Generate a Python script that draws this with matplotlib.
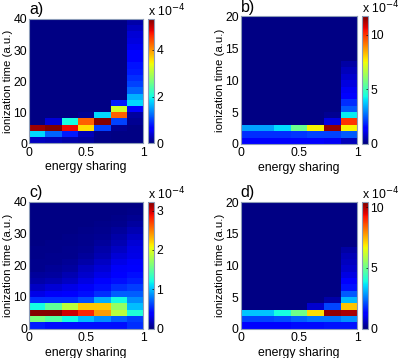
import numpy as np
import matplotlib
matplotlib.use("Agg")
import matplotlib.pyplot as plt

plt.rcParams['font.family'] = ['Liberation Sans', 'DejaVu Sans']

# --- Data (units of 1e-4), rows listed from bottom (t=0) upward, 7 energy-sharing bins ---
SHARING_EDGES = np.linspace(0, 1, 8)

# panel a: 20 rows of 2 a.u.
grid_a = [
    [0.3, 0.25, 0.2, 0.15, 0.05, 0.03, 0.03],
    [1.8, 1.2, 0.8, 0.25, 0.05, 0.03, 0.03],
    [5.2, 5.4, 4.8, 3.6, 1.0, 0.1, 0.03],
    [0.03, 0.4, 2.0, 4.3, 5.3, 1.0, 0.1],
    [0.03, 0.03, 0.03, 0.1, 1.8, 4.3, 0.15],
    [0.03, 0.03, 0.03, 0.03, 0.03, 3.2, 0.6],
    [0.03, 0.03, 0.03, 0.03, 0.03, 0.8, 1.8],
    [0.03, 0.03, 0.03, 0.03, 0.03, 0.03, 1.6],
    [0.03, 0.03, 0.03, 0.03, 0.03, 0.03, 1.2],
    [0.03, 0.03, 0.03, 0.03, 0.03, 0.03, 1.0],
    [0.03, 0.03, 0.03, 0.03, 0.03, 0.03, 0.9],
    [0.03, 0.03, 0.03, 0.03, 0.03, 0.03, 0.8],
    [0.03, 0.03, 0.03, 0.03, 0.03, 0.03, 0.75],
    [0.03, 0.03, 0.03, 0.03, 0.03, 0.03, 0.65],
    [0.03, 0.03, 0.03, 0.03, 0.03, 0.03, 0.6],
    [0.03, 0.03, 0.03, 0.03, 0.03, 0.03, 0.5],
    [0.03, 0.03, 0.03, 0.03, 0.03, 0.03, 0.45],
    [0.03, 0.03, 0.03, 0.03, 0.03, 0.03, 0.4],
    [0.03, 0.03, 0.03, 0.03, 0.03, 0.03, 0.3],
    [0.03, 0.03, 0.03, 0.03, 0.03, 0.03, 0.2],
]

# panel b: 20 rows of 1 a.u.
grid_b = [
    [1.3, 1.3, 1.3, 1.3, 1.3, 1.2, 0.6],
    [2.0, 2.0, 2.0, 2.1, 2.2, 2.2, 2.5],
    [3.3, 3.3, 4.0, 5.6, 7.6, 11.5, 7.6],
    [0.05, 0.05, 0.05, 0.05, 0.05, 1.0, 10.0],
    [0.05, 0.05, 0.05, 0.05, 0.05, 0.2, 4.2],
    [0.05, 0.05, 0.05, 0.05, 0.05, 0.05, 2.5],
    [0.05, 0.05, 0.05, 0.05, 0.05, 0.05, 2.0],
    [0.05, 0.05, 0.05, 0.05, 0.05, 0.05, 1.5],
    [0.05, 0.05, 0.05, 0.05, 0.05, 0.05, 1.2],
    [0.05, 0.05, 0.05, 0.05, 0.05, 0.05, 1.0],
    [0.05, 0.05, 0.05, 0.05, 0.05, 0.05, 0.8],
    [0.05, 0.05, 0.05, 0.05, 0.05, 0.05, 0.6],
    [0.05, 0.05, 0.05, 0.05, 0.05, 0.05, 0.4],
    [0.05, 0.05, 0.05, 0.05, 0.05, 0.05, 0.05],
    [0.05, 0.05, 0.05, 0.05, 0.05, 0.05, 0.05],
    [0.05, 0.05, 0.05, 0.05, 0.05, 0.05, 0.05],
    [0.05, 0.05, 0.05, 0.05, 0.05, 0.05, 0.05],
    [0.05, 0.05, 0.05, 0.05, 0.05, 0.05, 0.05],
    [0.05, 0.05, 0.05, 0.05, 0.05, 0.05, 0.05],
    [0.05, 0.05, 0.05, 0.05, 0.05, 0.05, 0.05],
]

# panel c: 20 rows of 2 a.u.
grid_c = [
    [0.5, 0.45, 0.45, 0.45, 0.45, 0.45, 0.55],
    [1.6, 1.45, 1.2, 1.0, 0.85, 0.7, 0.6],
    [3.2, 3.2, 3.0, 2.8, 2.4, 1.85, 1.25],
    [1.2, 1.5, 1.85, 2.25, 2.25, 1.7, 1.0],
    [0.55, 0.55, 0.55, 0.65, 0.95, 1.2, 0.85],
    [0.3, 0.35, 0.4, 0.45, 0.55, 0.7, 0.7],
    [0.2, 0.25, 0.3, 0.35, 0.45, 0.55, 0.6],
    [0.12, 0.15, 0.2, 0.28, 0.38, 0.45, 0.5],
    [0.08, 0.1, 0.15, 0.22, 0.3, 0.4, 0.45],
    [0.05, 0.07, 0.1, 0.18, 0.25, 0.35, 0.4],
    [0.04, 0.05, 0.07, 0.12, 0.2, 0.3, 0.35],
    [0.03, 0.04, 0.05, 0.08, 0.15, 0.25, 0.3],
    [0.03, 0.03, 0.04, 0.06, 0.12, 0.2, 0.28],
    [0.02, 0.03, 0.03, 0.05, 0.08, 0.15, 0.25],
    [0.02, 0.02, 0.03, 0.04, 0.06, 0.12, 0.2],
    [0.02, 0.02, 0.02, 0.03, 0.04, 0.08, 0.15],
    [0.02, 0.02, 0.02, 0.02, 0.03, 0.05, 0.1],
    [0.02, 0.02, 0.02, 0.02, 0.02, 0.03, 0.06],
    [0.02, 0.02, 0.02, 0.02, 0.02, 0.02, 0.03],
    [0.02, 0.02, 0.02, 0.02, 0.02, 0.02, 0.02],
]

# panel d: 20 rows of 1 a.u.
grid_d = [
    [1.3, 1.3, 1.3, 1.4, 1.4, 1.5, 1.5],
    [2.0, 2.0, 2.1, 2.3, 2.5, 2.5, 2.8],
    [3.3, 3.3, 3.9, 5.0, 7.0, 10.2, 10.0],
    [0.05, 0.05, 0.05, 0.05, 0.7, 2.0, 7.3],
    [0.05, 0.05, 0.05, 0.05, 0.05, 0.4, 3.2],
    [0.05, 0.05, 0.05, 0.05, 0.05, 0.05, 2.2],
    [0.05, 0.05, 0.05, 0.05, 0.05, 0.05, 1.5],
    [0.05, 0.05, 0.05, 0.05, 0.05, 0.05, 1.2],
    [0.05, 0.05, 0.05, 0.05, 0.05, 0.05, 0.9],
    [0.05, 0.05, 0.05, 0.05, 0.05, 0.05, 0.7],
    [0.05, 0.05, 0.05, 0.05, 0.05, 0.05, 0.6],
    [0.05, 0.05, 0.05, 0.05, 0.05, 0.05, 0.5],
    [0.05, 0.05, 0.05, 0.05, 0.05, 0.05, 0.35],
    [0.05, 0.05, 0.05, 0.05, 0.05, 0.05, 0.05],
    [0.05, 0.05, 0.05, 0.05, 0.05, 0.05, 0.05],
    [0.05, 0.05, 0.05, 0.05, 0.05, 0.05, 0.05],
    [0.05, 0.05, 0.05, 0.05, 0.05, 0.05, 0.05],
    [0.05, 0.05, 0.05, 0.05, 0.05, 0.05, 0.05],
    [0.05, 0.05, 0.05, 0.05, 0.05, 0.05, 0.05],
    [0.05, 0.05, 0.05, 0.05, 0.05, 0.05, 0.05],
]

labels = ["a)", "b)", "c)", "d)"]
tmax = [40, 20, 40, 20]
vmax = [5.33, 11.7, 3.22, 10.4]
yticks = [[0, 10, 20, 30, 40], [0, 5, 10, 15, 20], [0, 10, 20, 30, 40], [0, 5, 10, 15, 20]]
cticks = [[0, 2, 4], [0, 5, 10], [0, 1, 2, 3], [0, 5, 10]]
grids = [grid_a, grid_b, grid_c, grid_d]

# --- Layout (figure fractions): [ax_left, ax_bottom, ax_width, ax_height, cbar_left] ---
boxes = [
    [0.0727, 0.600, 0.2865, 0.347, 0.370],
    [0.6033, 0.598, 0.2922, 0.356, 0.9065],
    [0.0727, 0.082, 0.2865, 0.354, 0.370],
    [0.6033, 0.082, 0.2922, 0.353, 0.9065],
]

FRAME = '#8c9cb8'
FS = 8.8

fig = plt.figure(figsize=(3.99, 3.58), dpi=100)

for i in range(4):
    left, bottom, w, h, cl = boxes[i]
    ax = fig.add_axes([left, bottom, w, h])
    cax = fig.add_axes([cl, bottom, 0.0165, h])

    data = np.array(grids[i])
    t_edges = np.linspace(0, tmax[i], data.shape[0] + 1)
    mesh = ax.pcolormesh(SHARING_EDGES, t_edges, data, cmap='jet', vmin=0, vmax=vmax[i])
    ax.set_xlim(0, 1)
    ax.set_ylim(0, tmax[i])
    ax.set_xticks([0, 0.5, 1])
    ax.set_xticklabels(['0', '0.5', '1'])
    ax.set_yticks(yticks[i])
    ax.tick_params(axis='x', labelsize=FS, length=0, pad=2.5)
    ax.tick_params(axis='y', labelsize=FS, length=0, pad=1.5)
    for s in ax.spines.values():
        s.set_color(FRAME)
        s.set_linewidth(0.8)
    ax.set_xlabel("energy sharing", fontsize=FS, labelpad=2)
    ax.set_ylabel("ionization time (a.u.)", fontsize=FS - 0.6, labelpad=0)
    ax.text(0.0, 1.015, labels[i], transform=ax.transAxes, fontsize=11.5, va='bottom', ha='left')

    cb = fig.colorbar(mesh, cax=cax)
    cb.set_ticks(cticks[i])
    cb.outline.set_edgecolor(FRAME)
    cb.outline.set_linewidth(0.8)
    cax.tick_params(labelsize=FS, length=1.5, width=0.5, pad=1.5, direction='in')
    cax.text(0.0, 1.0, r"x 10$^{-4}$", transform=cax.transAxes, fontsize=FS,
             va='bottom', ha='left')

fig.savefig("out.png", dpi=100)
